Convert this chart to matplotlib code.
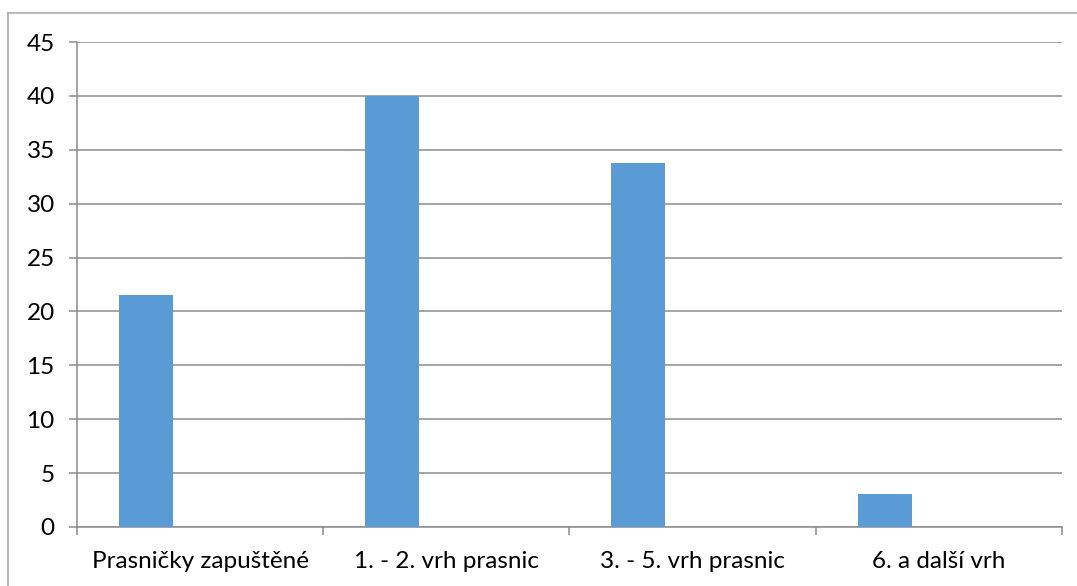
import matplotlib.pyplot as plt
import numpy as np

# Podíl jednotlivých kategorií prasnic
categories = ["Prasničky zapuštěné", "1. - 2. vrh prasnic", "3. - 5. vrh prasnic", "6. a další vrh"]
values = [21.5, 40.0, 33.8, 3.1]
yticks = list(range(0, 50, 5))

plt.rcParams['font.family'] = ['Lato', 'DejaVu Sans']

fig = plt.figure(figsize=(10.77, 5.86), dpi=100)
ax = fig.add_axes([0.0715, 0.1007, 0.9145, 0.8276])

x = np.arange(len(categories))
bar_w = 0.22
ax.bar(x - bar_w, values, width=bar_w, color="#5B9BD5", zorder=3)

ax.set_xlim(-0.5, len(categories) - 0.5)
ax.set_ylim(0, 45)
ax.set_yticks(yticks)
ax.set_yticklabels([str(t) for t in yticks], fontsize=17.5)
ax.yaxis.grid(True, color="#8C8C8C", linewidth=1.1)
ax.set_axisbelow(True)

# category labels centred, tick marks at the boundaries
ax.set_xticks(x)
ax.set_xticklabels(categories, fontsize=17.5)
ax.tick_params(axis='x', which='major', length=0, pad=17)
ax.set_xticks(np.arange(-0.5, len(categories), 1.0), minor=True)
ax.tick_params(axis='x', which='minor', length=6, color="#8C8C8C", width=1.1)
ax.tick_params(axis='y', length=6, color="#8C8C8C", width=1.1, pad=10)

for side in ("top", "right"):
    ax.spines[side].set_visible(False)
for side in ("left", "bottom"):
    ax.spines[side].set_color("#8C8C8C")
    ax.spines[side].set_linewidth(1.1)

# outer chart frame (top and left edges)
fig.add_artist(plt.Line2D([8 / 1077, 1.0], [1 - 13 / 586] * 2, color="#A6A6A6", linewidth=1.1))
fig.add_artist(plt.Line2D([8 / 1077] * 2, [0.0, 1 - 13 / 586], color="#A6A6A6", linewidth=1.1))

fig.savefig("out.png", dpi=100)
